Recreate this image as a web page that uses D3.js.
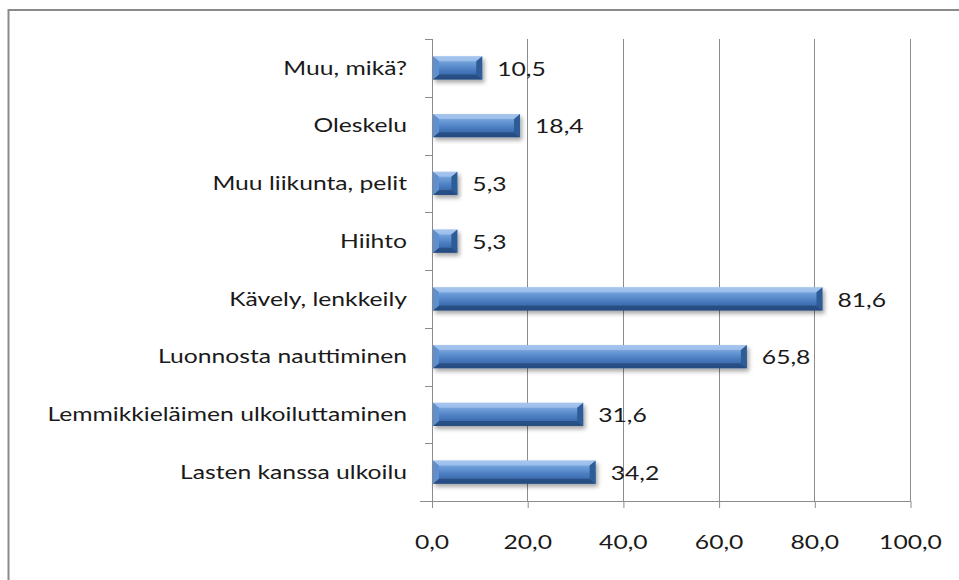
<!DOCTYPE html>
<html><head><meta charset="utf-8">
<script src="https://cdn.jsdelivr.net/npm/d3@7"></script>
<style>
html,body{margin:0;padding:0;background:#fff;}
svg{display:block;}
text{font-family:Lato,"Open Sans",sans-serif;fill:#1a1a1a;}
</style></head>
<body>
<svg id="chart" width="959" height="580"></svg>
<script>
const categories = ["Muu, mikä?","Oleskelu","Muu liikunta, pelit","Hiihto","Kävely, lenkkeily","Luonnosta nauttiminen","Lemmikkieläimen ulkoiluttaminen","Lasten kanssa ulkoilu"];
const values = [10.5,18.4,5.3,5.3,81.6,65.8,31.6,34.2];
const valueLabels = ["10,5","18,4","5,3","5,3","81,6","65,8","31,6","34,2"];
const xTicks = [0,20,40,60,80,100];
const xTickLabels = ["0,0","20,0","40,0","60,0","80,0","100,0"];

const svg = d3.select("#chart");
const plot={left:432,right:910.5,top:39,bottom:501};
const fs=19, sx=1.3;

const x=d3.scaleLinear().domain([0,100]).range([plot.left,plot.right]);
const y=d3.scaleBand().domain(categories).range([plot.top,plot.bottom]).paddingInner(0.6).paddingOuter(0.3);
const yb=d3.scaleBand().domain(categories).range([plot.top,plot.bottom]);

// frame
svg.append("rect").attr("x",8.5).attr("y",10).attr("width",1000).attr("height",1000)
  .attr("fill","#fff").attr("stroke","#8a8a8a").attr("stroke-width",2);

const defs=svg.append("defs");
const g=defs.append("linearGradient").attr("id","bg").attr("x1",0).attr("y1",0).attr("x2",0).attr("y2",1);
[[0,"#9cc0ec"],[0.3,"#6a9ad6"],[0.6,"#4a7cc0"],[1,"#2d5a98"]].forEach(s=>g.append("stop").attr("offset",s[0]).attr("stop-color",s[1]));
const f=defs.append("filter").attr("id","sh").attr("x","-10%").attr("y","-30%").attr("width","130%").attr("height","180%");
f.append("feDropShadow").attr("dx",2).attr("dy",3).attr("stdDeviation",2).attr("flood-color","#000").attr("flood-opacity",0.35);

// gridlines
svg.append("g").selectAll("line").data(xTicks.slice(1)).join("line")
  .attr("x1",d=>x(d)).attr("x2",d=>x(d)).attr("y1",plot.top).attr("y2",plot.bottom)
  .attr("stroke","#8c8c8c").attr("stroke-width",1).attr("shape-rendering","crispEdges");

// x axis
const xa=svg.append("g").attr("transform",`translate(0,${plot.bottom})`)
  .call(d3.axisBottom(x).tickValues(xTicks).tickFormat("").tickSize(7).tickSizeOuter(0));
xa.select(".domain").remove();
xa.append("line").attr("x1",x(0)-12).attr("x2",plot.right).attr("y1",0.5).attr("y2",0.5).attr("stroke","#8c8c8c");
xa.selectAll(".tick line").attr("stroke","#8c8c8c");
svg.append("g").selectAll("text").data(xTicks).join("text")
  .attr("transform",d=>`translate(${x(d)},${plot.bottom+43}) scale(${sx},1)`)
  .attr("text-anchor","middle").attr("dominant-baseline","middle")
  .style("font-size",fs+"px").text((d,i)=>xTickLabels[i]);

// y axis
const ya=svg.append("g").attr("transform",`translate(${plot.left},0)`);
ya.append("line").attr("x1",0.5).attr("x2",0.5).attr("y1",plot.top).attr("y2",plot.bottom).attr("stroke","#8c8c8c");
const bounds=categories.map(c=>yb(c)).concat([plot.bottom]);
ya.selectAll("line.tk").data(bounds).join("line").attr("class","tk")
  .attr("x1",-7).attr("x2",0).attr("y1",d=>Math.round(d)+0.5).attr("y2",d=>Math.round(d)+0.5).attr("stroke","#8c8c8c");
ya.selectAll("text").data(categories).join("text")
  .attr("transform",d=>`translate(-25,${yb(d)+yb.bandwidth()/2+2}) scale(${sx},1)`)
  .attr("text-anchor","end").attr("dominant-baseline","middle")
  .style("font-size",fs+"px").text(d=>d);

// bars
const bars=svg.append("g");
categories.forEach((c,i)=>{
  const x0=x(0)+1,x1=x(values[i]),y0=y(c),y1=y(c)+y.bandwidth();
  const b=Math.min(6,(x1-x0)/3),bv=5;
  const gg=bars.append("g").attr("filter","url(#sh)");
  gg.append("rect").attr("x",x0).attr("y",y0).attr("width",x1-x0).attr("height",y1-y0).attr("fill","url(#bg)");
  gg.append("polygon").attr("points",[[x0,y0],[x1,y0],[x1-b,y0+bv],[x0+b,y0+bv]].join(" ")).attr("fill","#a9c8f0").attr("opacity",0.7);
  gg.append("polygon").attr("points",[[x0,y1],[x1,y1],[x1-b,y1-bv],[x0+b,y1-bv]].join(" ")).attr("fill","#24487a").attr("opacity",0.75);
  gg.append("polygon").attr("points",[[x0,y0],[x0+b,y0+bv],[x0+b,y1-bv],[x0,y1]].join(" ")).attr("fill","#5f8fcf");
  gg.append("polygon").attr("points",[[x1,y0],[x1-b,y0+bv],[x1-b,y1-bv],[x1,y1]].join(" ")).attr("fill","#2f5b96");
});

// value labels
svg.append("g").selectAll("text").data(categories).join("text")
  .attr("transform",(d,i)=>`translate(${x(values[i])+15},${y(d)+y.bandwidth()/2+3}) scale(${sx},1)`)
  .attr("dominant-baseline","middle")
  .style("font-size",fs+"px").text((d,i)=>valueLabels[i]);
</script>
</body></html>
